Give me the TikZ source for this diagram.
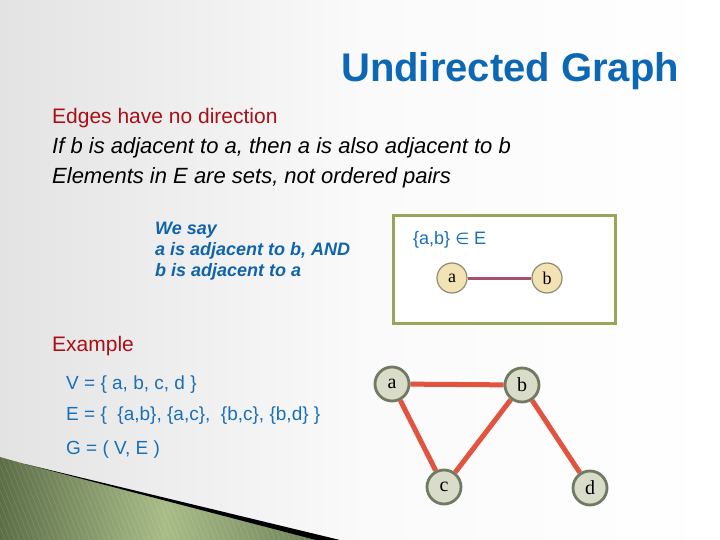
\documentclass[tikz,border=0pt]{standalone}
\usepackage{fontspec}
\setmainfont{Liberation Sans}
\newfontfamily\serifnode{Liberation Serif}
\newfontfamily\symfont{DejaVu Sans}
\usetikzlibrary{shadings}
\pgfdeclarelayer{back}
\pgfdeclarelayer{edges}
\pgfsetlayers{back,edges,main}
\definecolor{titleblue}{RGB}{12,104,180}
\definecolor{textblue}{RGB}{24,112,184}
\definecolor{sayblue}{RGB}{16,100,172}
\definecolor{darkred}{RGB}{168,16,24}
\definecolor{boxolive}{RGB}{154,165,92}
\definecolor{beige}{RGB}{242,226,180}
\definecolor{beigeborder}{RGB}{140,140,112}
\definecolor{mauve}{RGB}{168,80,106}
\definecolor{edgered}{RGB}{224,84,64}
\definecolor{sage}{RGB}{216,220,200}
\definecolor{sageborder}{RGB}{112,122,98}
\definecolor{greendark}{RGB}{92,110,70}
\definecolor{greenlight}{RGB}{168,188,136}
\tikzset{
  txt/.style={anchor=base west, inner sep=0pt},
  smallv/.style={circle, draw=beigeborder, line width=1.2pt, fill=beige, minimum size=30pt, inner sep=0pt, font=\serifnode\fontsize{18}{18}\selectfont},
  bigv/.style={circle, draw=sageborder, line width=2.8pt, fill=sage, minimum size=34pt, inner sep=0pt, font=\serifnode\fontsize{20}{20}\selectfont},
  smalledge/.style={draw=mauve, line width=3pt},
  bigedge/.style={draw=edgered, line width=5pt}
}
\begin{document}
\begin{tikzpicture}[x=1pt,y=-1pt]
\useasboundingbox (0,0) rectangle (720,540);
\begin{pgfonlayer}{back}
% background
\shade[left color=black!11, right color=white, middle color=black!2] (0,0) rectangle (720,540);
% bottom-left wedge
\begin{scope}
\clip (0,457) -- (25,464) -- (322,540) -- (0,540) -- cycle;
\shade[left color=greendark, right color=greendark!80!greenlight, middle color=greenlight] (0,450) rectangle (330,540);
\foreach \i in {0,5,...,370} { \draw[white, opacity=0.13, line width=0.6pt] (\i,540) -- ++(-36,-90); }
\end{scope}
\fill[black] (25,464) -- (340,540) -- (316,540) -- cycle;
% box
\draw[boxolive, line width=3pt, fill=white] (393,216) rectangle (615,323);
\end{pgfonlayer}
% title
\node[txt, text=titleblue, font=\bfseries\fontsize{40}{40}\selectfont] (title) at (341,82) {Undirected Graph};
% bullet lines
\node[txt, text=darkred, font=\fontsize{21}{21}\selectfont] (l1) at (52,124) {Edges have no direction};
\node[txt, font=\itshape\fontsize{22}{22}\selectfont] (l2) at (52,154) {If b is adjacent to a, then a is also adjacent to b};
\node[txt, font=\itshape\fontsize{22}{22}\selectfont] (l3) at (52,184) {Elements in E are sets, not ordered pairs};
% we say
\node[txt, text=sayblue, font=\bfseries\itshape\fontsize{18}{18}\selectfont] (say1) at (155,234) {We say};
\node[txt, text=sayblue, font=\bfseries\itshape\fontsize{18}{18}\selectfont] (say2) at (155,255) {a is adjacent to b, AND};
\node[txt, text=sayblue, font=\bfseries\itshape\fontsize{18}{18}\selectfont] (say3) at (155,276) {b is adjacent to a};
% box content
\node[txt, text=textblue, font=\fontsize{18}{18}\selectfont] (set) at (413,244) {\{a,b\} {\symfont\fontsize{16}{16}\selectfont ∈} E};
\node[smallv] (sa) at (452,278) {a};
\node[smallv] (sb) at (547,278) {b};
% example
\node[txt, text=darkred, font=\fontsize{21}{21}\selectfont] (ex) at (52,351) {Example};
\node[txt, text=textblue, font=\fontsize{19}{19}\selectfont] (vs) at (66,389) {V = \{ a, b, c, d \}};
\node[txt, text=textblue, font=\fontsize{19}{19}\selectfont] (es) at (66,420) {E = \{ \ \{a,b\}, \{a,c\}, \ \{b,c\}, \{b,d\} \}};
\node[txt, text=textblue, font=\fontsize{19}{19}\selectfont] (gs) at (66,454) {G = ( V, E )};
% graph
\node[bigv] (a) at (392,384) {a};
\node[bigv] (b) at (522,385) {b};
\node[bigv] (c) at (444,487) {c};
\node[bigv] (d) at (590,488) {d};
\begin{pgfonlayer}{edges}
\draw[smalledge] (sa) -- (sb);
\draw[bigedge] (a) -- (b);
\draw[bigedge] (a) -- (c);
\draw[bigedge] (b) -- (c);
\draw[bigedge] (b) -- (d);
\end{pgfonlayer}
\end{tikzpicture}
\end{document}
